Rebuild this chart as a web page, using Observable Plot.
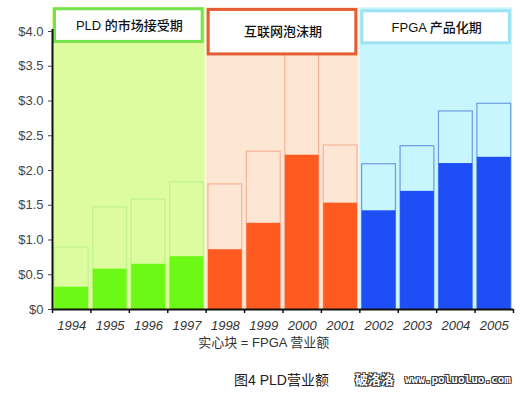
<!DOCTYPE html>
<html>
<head>
<meta charset="utf-8">
<script src="https://cdn.jsdelivr.net/npm/d3@7"></script>
<script src="https://cdn.jsdelivr.net/npm/@observablehq/plot@0.6"></script>
<style>
  html, body { margin: 0; padding: 0; background: #fff; }
  #wrap { position: relative; width: 520px; height: 398px; font-family: "Liberation Sans", "Noto Sans CJK SC", sans-serif; }
  #chart svg { display: block; }
  #chart [aria-label="x-axis tick label"] text { font-style: italic; }
  .cap { position: absolute; white-space: nowrap; line-height: 1; }
  .wm { color: #fff; font-weight: bold;
        text-shadow: -1px -1px 0 #333, 1px -1px 0 #333, -1px 1px 0 #333, 1px 1px 0 #333; }
</style>
</head>
<body>
<div id="wrap">
  <div id="chart"></div>
  <div class="cap" style="left:234px; top:373px; font-size:14px; color:#222;">图4 PLD营业额</div>
  <div class="cap wm" style="left:355px; top:372px; font-size:13px; font-family:'Noto Sans CJK SC';">破洛洛</div>
  <div class="cap wm" style="left:405px; top:374px; font-size:11px; font-family:'DejaVu Sans Mono', monospace;">www.poluoluo.com</div>
</div>
<script>
// ---- data ----
const years = [1994, 1995, 1996, 1997, 1998, 1999, 2000, 2001, 2002, 2003, 2004, 2005];
const pldRevenue = [0.89, 1.47, 1.58, 1.83, 1.80, 2.27, 3.85, 2.36, 2.09, 2.35, 2.85, 2.96];
const fpgaRevenue = [0.32, 0.58, 0.65, 0.76, 0.86, 1.24, 2.22, 1.53, 1.42, 1.70, 2.10, 2.19];
const periodNames = ["PLD 的市场接受期", "互联网泡沫期", "FPGA 产品化期"];
const periodStart = [1994, 1998, 2002];
const periodEnd = [1997, 2001, 2005];
const yTicks = [0, 0.5, 1, 1.5, 2, 2.5, 3, 3.5, 4];
const caption = "实心块 = FPGA 营业额";

// ---- styles ----
const bgColors = ["#dcfc9f", "#fde6d3", "#c8f6fe"];
const outlineColors = ["#c3f28c", "#f4b49c", "#6c9be2"];
const solidColors = ["#6cf915", "#ff5a1f", "#1e4ff6"];
const headerStroke = ["#74e24a", "#e65c34", "#9ee3f2"];
const headerTop = [4.32, 4.31, 4.29];
const headerBottom = [3.85, 3.67, 3.83];

const periodOf = y => periodStart.findIndex((s, i) => y >= s && y <= periodEnd[i]);
const bars = years.map((y, i) => ({year: y, pld: pldRevenue[i], fpga: fpgaRevenue[i], p: periodOf(y)}));
const periods = periodNames.map((n, i) => ({name: n, start: periodStart[i], end: periodEnd[i], i}));
const boundaries = [years[0] - 0.5, ...years.map(y => y + 0.5)];

const font = '"Liberation Sans", "Noto Sans CJK SC", sans-serif';

const chart = Plot.plot({
  width: 520,
  height: 352,
  marginLeft: 52,
  marginRight: 7,
  marginTop: 31,
  marginBottom: 43,
  x: {domain: [1993.5, 2005.5], axis: null},
  y: {domain: [0, 4], axis: null},
  color: {type: "identity"},
  style: {fontFamily: font, overflow: "visible", background: "transparent"},
  marks: [
    Plot.rect(periods, {x1: d => d.start - 0.5, x2: d => d.end + 0.5, y1: 0, y2: 4.34,
      fill: d => bgColors[d.i], insetRight: 1}),
    Plot.rect(bars, {x1: d => d.year - 0.44, x2: d => d.year + 0.44, y1: 0, y2: "pld",
      fill: d => bgColors[d.p], stroke: d => outlineColors[d.p], strokeWidth: 1.2}),
    Plot.rect(bars, {x1: d => d.year - 0.44, x2: d => d.year + 0.44, y1: 0, y2: "fpga",
      fill: d => solidColors[d.p]}),
    Plot.rect(periods, {x1: d => d.start - 0.5, x2: d => d.end + 0.5,
      y1: d => headerBottom[d.i], y2: d => headerTop[d.i],
      fill: "white", stroke: d => headerStroke[d.i], strokeWidth: 3,
      insetLeft: 2.5, insetRight: 3.5}),
    Plot.text(periods, {x: d => (d.start + d.end) / 2, y: d => (headerTop[d.i] + headerBottom[d.i]) / 2,
      text: "name", fontSize: 13, fill: "#111", fontWeight: 500}),
    Plot.ruleY([0], {x1: 1993.5, x2: 2005.5, stroke: "#111", strokeWidth: 2}),
    Plot.ruleX([1993.5], {y1: 0, y2: 4.03, stroke: "#111", strokeWidth: 2}),
    Plot.axisY({ticks: yTicks, tickSize: 4, tickPadding: 5, fontSize: 13, color: "#444",
      tickFormat: d => d === 0 ? "$0" : "$" + d.toFixed(1)}),
    Plot.axisX({ticks: boundaries, tickSize: 4, tickFormat: () => "", stroke: "#111", strokeWidth: 1.5}),
    Plot.axisX({ticks: years, tickSize: 0, tickPadding: 11, fontSize: 13, color: "#333",
      tickFormat: d => String(d)}),
    Plot.text([caption], {x: 1999, y: 0, dy: 33, text: d => d, fontSize: 13, fill: "#333"})
  ]
});
document.getElementById("chart").appendChild(chart);
</script>
</body>
</html>
